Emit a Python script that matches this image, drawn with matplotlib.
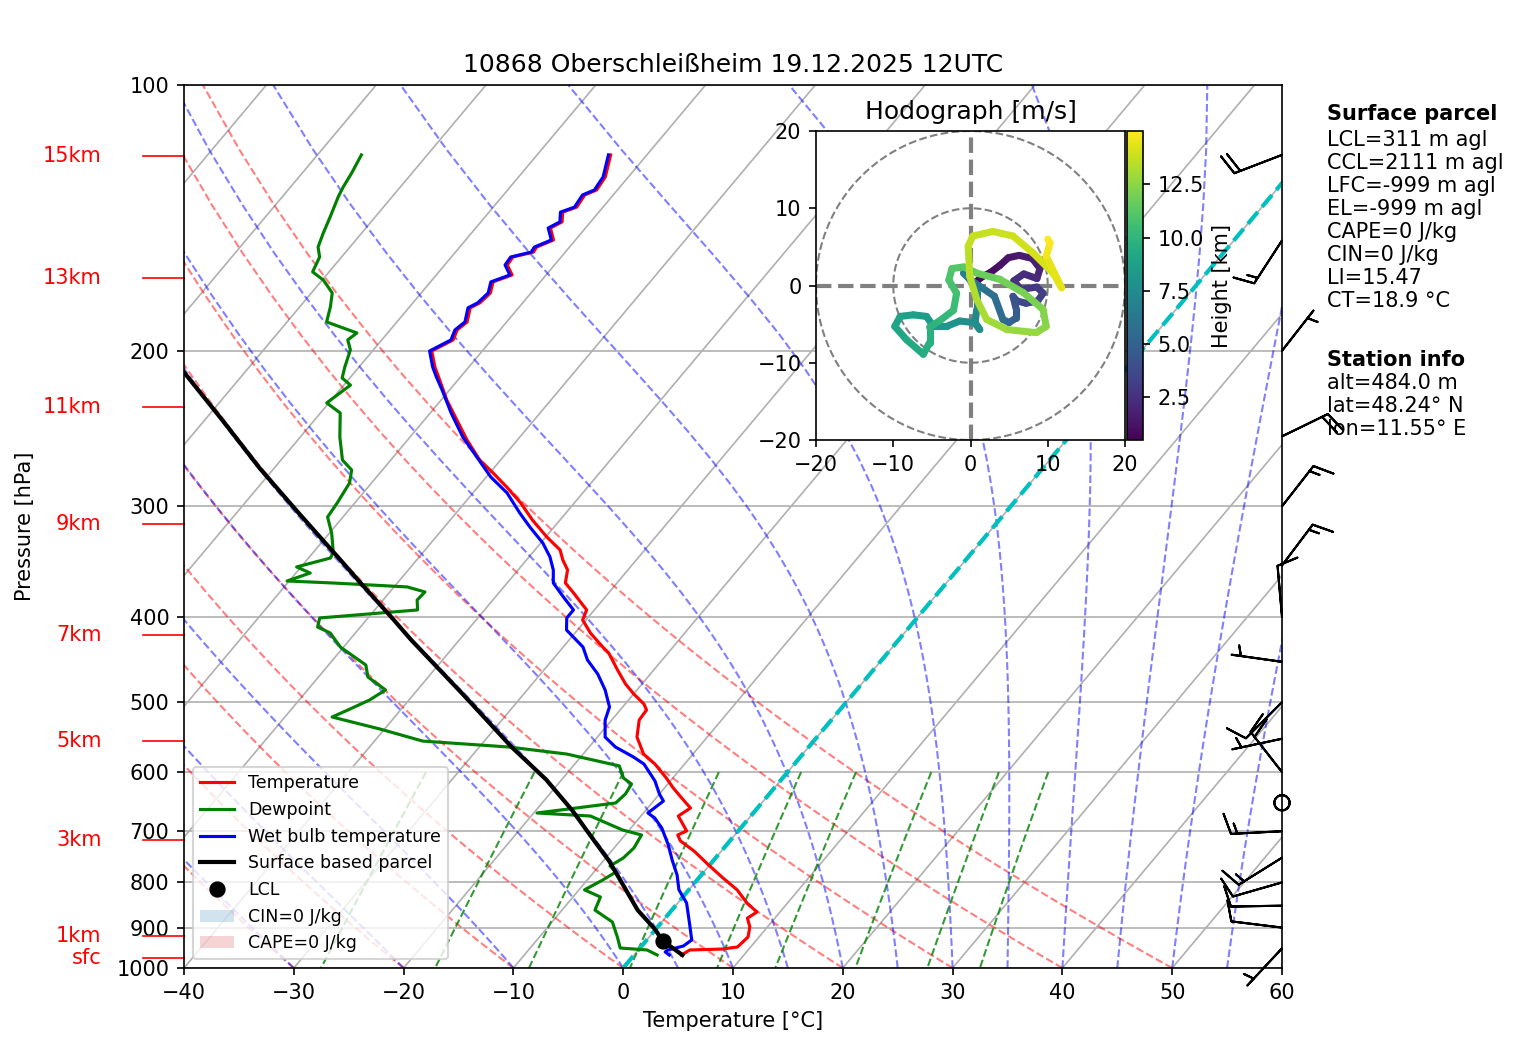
"""Skew-T log-p diagram with hodograph, 10868 Oberschleissheim 19.12.2025 12UTC."""

import numpy as np
import matplotlib
matplotlib.use("Agg")
import matplotlib.pyplot as plt
import matplotlib.patches as mpatches
from matplotlib import transforms
from matplotlib.collections import LineCollection
from matplotlib.ticker import FixedLocator, NullLocator, NullFormatter

# ---- sounding (pressure hPa, temperature degC) ----
temp_p = [120.0, 127.1, 131.5, 133.2, 137.5, 139.3, 142.9, 145.2, 149.8, 152.6,
          154.6, 156.6, 159.9, 164.1, 167.1, 172.0, 176.5, 178.8, 185.5, 189.4,
          194.4, 200.1, 208.6, 214.1, 227.3, 235.2, 252.3, 265.9, 275.0, 285.2,
          297.3, 311.0, 325.0, 336.2, 345.0, 354.1, 366.4, 376.0, 393.1, 403.5,
          417.4, 433.0, 439.8, 459.7, 476.8, 489.3, 502.3, 510.3, 523.8, 547.6,
          572.4, 587.5, 609.3, 625.4, 647.0, 658.9, 672.8, 699.5, 706.9, 718.0,
          737.0, 764.4, 790.7, 815.6, 844.0, 864.2, 878.0, 898.6, 922.4, 946.7,
          951.7, 954.1, 966.7]
temp_t = [-63.3, -62.1, -61.9, -62.6, -62.4, -63.3, -62.6, -63.2, -62.0, -63.0,
          -62.9, -64.4, -64.3, -63.1, -64.3, -63.7, -63.9, -64.4, -63.6, -63.9,
          -63.5, -64.6, -63.1, -62.0, -59.5, -57.9, -54.6, -51.9, -49.7, -47.4,
          -44.9, -42.5, -39.9, -37.7, -36.7, -35.5, -34.7, -33.2, -30.7, -30.3,
          -28.6, -26.4, -25.4, -23.3, -21.5, -20.0, -18.3, -17.6, -17.5, -16.4,
          -14.5, -12.7, -10.6, -9.2, -7.2, -6.1, -6.6, -4.7, -5.2, -4.5,
          -2.5, -0.1, 2.2, 4.4, 6.3, 7.9, 7.5, 8.4, 9.0, 8.8,
          7.6, 4.7, 4.3]

wetbulb_p = [120.0, 127.1, 131.5, 133.2, 137.5, 139.3, 142.9, 145.2, 149.8, 152.6,
             154.6, 156.6, 159.9, 164.1, 167.1, 172.0, 176.5, 178.8, 185.5, 189.4,
             194.4, 200.1, 208.6, 214.1, 221.4, 235.2, 250.4, 263.8, 277.9, 289.7,
             305.3, 316.7, 330.2, 342.3, 354.1, 366.4, 380.1, 393.1, 401.4, 414.2,
             433.0, 447.9, 464.5, 484.3, 506.3, 523.8, 547.6, 562.0, 576.8, 587.5,
             614.1, 635.3, 647.0, 667.5, 676.2, 694.0, 725.5, 754.5, 784.7, 815.6,
             844.0, 889.4, 929.5, 944.3, 954.1, 959.1, 966.7]
wetbulb_t = [-63.5, -62.3, -62.1, -62.8, -62.6, -63.5, -62.8, -63.4, -62.2, -63.2,
             -63.1, -64.6, -64.5, -63.3, -64.5, -63.9, -64.1, -64.6, -63.8, -64.1,
             -63.7, -64.8, -63.3, -62.2, -60.7, -58.1, -55.2, -52.4, -49.6, -46.9,
             -44.2, -42.2, -39.8, -38.1, -36.8, -35.8, -33.8, -31.9, -31.9, -31.0,
             -28.2, -26.8, -24.8, -22.9, -21.2, -20.6, -19.3, -17.6, -15.2, -13.7,
             -11.4, -10.0, -9.1, -9.6, -8.6, -7.2, -5.3, -3.8, -2.2, -0.9,
             0.8, 2.6, 4.1, 3.8, 2.7, 2.6, 3.2]

dewp_p = [120.0, 125.8, 130.5, 133.9, 141.1, 147.1, 152.6, 156.6, 162.8, 166.3,
          172.0, 178.4, 185.5, 190.9, 194.4, 199.5, 208.6, 214.7, 218.7, 229.1,
          235.2, 250.4, 265.9, 272.9, 282.3, 297.3, 308.5, 321.7, 338.0, 343.3,
          351.4, 357.0, 364.5, 366.4, 370.2, 375.1, 383.0, 393.1, 401.4, 411.0,
          417.4, 433.0, 453.8, 468.2, 484.3, 497.3, 510.3, 519.7, 536.3, 553.4,
          562.0, 572.4, 590.4, 609.3, 619.0, 635.3, 650.3, 667.5, 672.8, 697.8,
          706.9, 731.2, 750.5, 766.4, 778.5, 795.2, 815.6, 831.0, 859.8, 887.0,
          922.4, 949.2, 954.1, 966.7]
dewp_t = [-86.0, -85.5, -85.2, -84.9, -84.1, -83.5, -82.9, -82.0, -81.5, -79.9,
          -78.1, -77.2, -76.4, -72.8, -73.1, -72.1, -71.3, -70.7, -69.4, -70.2,
          -68.2, -66.4, -64.4, -62.8, -62.0, -61.6, -61.4, -59.8, -58.2, -58.0,
          -60.4, -58.7, -60.2, -55.9, -48.8, -46.8, -46.9, -46.1, -54.4, -53.9,
          -52.3, -50.3, -46.6, -45.5, -42.9, -43.6, -44.8, -45.7, -40.4, -35.6,
          -27.3, -21.5, -15.8, -14.5, -13.3, -13.1, -13.3, -19.7, -14.6, -10.6,
          -8.5, -8.2, -8.4, -9.0, -8.0, -8.6, -9.5, -7.5, -7.0, -4.5,
          -2.9, -1.8, 0.8, 2.1]

parcel_p = [966.7, 931.3, 903.4, 860.0, 801.4, 757.4, 712.0, 664.0, 612.0, 562.5,
            490.0, 425.0, 400.1, 366.7, 343.6, 305.0, 271.7, 240.0, 211.3]
parcel_t = [4.4, 1.5, -0.1, -3.1, -6.6, -9.4, -12.8, -16.6, -21.4, -27.0,
            -35.5, -44.4, -48.0, -53.3, -57.2, -64.4, -71.3, -78.3, -85.6]

lcl_p = 931.3
lcl_t = 1.5

# ---- wind barbs (meteorological direction deg, speed kt) ----
wind_p = [120, 150, 200, 250, 300, 350, 400, 450, 500, 550, 600, 650, 700, 750,
          800, 850, 900, 950]
wind_dir = [249, 213, 38, 64, 38, 37, 355, 278, 225, 258, 322, 0, 267, 238,
            254, 269, 277, 223]
wind_spd = [20, 15, 5, 20, 15, 15, 10, 5, 10, 5, 20, 0, 15, 15, 10, 10, 10, 5]

# ---- hodograph (m/s) with height (km) ----
hodo_u = [0.5, 1.3, 2.6, 3.8, 4.9, 6.3, 8.0, 9.0, 8.6, 6.9, 5.6, 6.5, 8.6, 9.4, 8.7, 7.2,
          6.0, 5.5, 5.9, 5.9, 5.0, 4.2,
          3.1, 1.5, 0.3, -0.9, -0.1, 0.8, 0.8, 0.6, 1.2, 0.5, -1.4, -3.1, -4.8,
          -5.7, -7.4, -9.1, -9.8, -8.3, -6.1, -5.3, -5.3,
          -3.9, -2.2, -1.8, -2.8, -2.4, -0.9, 0.4,
          0.8, 3.8, 6.8, 9.4, 9.8, 8.5, 4.7, 2.1, 0.8, -0.1, -0.3, 0.3, 2.9, 5.5, 8.1, 10.7, 11.8,
          9.8, 10.3, 10.0]
hodo_v = [0.2, 1.0, 1.7, 2.6, 3.6, 3.9, 3.5, 2.2, 0.9, 1.5, 0.6, -0.5, -0.2, -1.0, -2.0, -2.3,
          -2.0, -1.4, -3.0, -4.2, -4.8, -4.4,
          -1.4, -0.3, 0.5, 1.6, 0.8, -0.9, -3.1, -4.8, -5.7, -4.8, -4.6, -5.3, -5.3,
          -4.0, -3.8, -4.0, -5.3, -7.0, -8.9, -7.4, -5.4,
          -4.5, -3.2, -1.0, 0.7, 2.2, 2.4, 1.8,
          1.6, 0.8, -0.9, -3.1, -5.3, -6.1, -5.7, -4.4, -1.8, 1.2, 5.1, 6.4, 7.0, 6.4, 4.2, 1.6, -0.3,
          3.8, 5.5, 6.0]
hodo_h = [0.5, 0.7, 0.9, 1.1, 1.3, 1.5, 1.7, 1.9, 2.1, 2.3, 2.5, 2.7, 2.9, 3.1, 3.3, 3.5,
          3.7, 4.0, 4.4, 4.8, 5.1, 5.4,
          5.8, 6.1, 6.3, 6.5, 6.7, 6.9, 7.1, 7.3, 7.5, 7.6, 7.8, 8.0, 8.2,
          8.4, 8.6, 8.8, 9.0, 9.2, 9.4, 9.6, 9.8,
          10.0, 10.3, 10.6, 10.8, 11.0, 11.2, 11.4,
          11.6, 11.8, 12.0, 12.2, 12.4, 12.6, 12.8, 13.0, 13.2, 13.4, 13.6, 13.7, 13.8, 13.9, 14.0, 14.1, 14.2,
          14.6, 14.9, 15.0]

# ---- height markers on the left ----
height_labels = ['sfc', '1km', '3km', '5km', '7km', '9km', '11km', '13km', '15km']
height_p = [975.3, 918.8, 716.3, 553.0, 419.8, 314.2, 231.4, 165.5, 120.2]

parcel_info = ['LCL=311 m agl', 'CCL=2111 m agl', 'LFC=-999 m agl', 'EL=-999 m agl',
               'CAPE=0 J/kg', 'CIN=0 J/kg', 'LI=15.47', 'CT=18.9 °C']
station_info = ['alt=484.0 m', 'lat=48.24° N', 'lon=11.55° E']

TITLE = '10868 Oberschleißheim 19.12.2025 12UTC'

# ---- thermodynamics for the background lines ----
SKEW = 67.5  # degC of shift per decade of pressure
RD, CP, LV, EPS = 287.04749, 1004.666, 2.50084e6, 0.621957
KAPPA = 0.28571


def skew_x(t, p):
    return np.asarray(t, float) + SKEW * np.log10(1000.0 / np.asarray(p, float))


def sat_vp(tk):
    tc = tk - 273.15
    return 6.112 * np.exp(17.67 * tc / (tc + 243.5))


def moist_dtdp(t, p):
    es = sat_vp(t)
    rs = EPS * es / (p - es)
    return (RD * t + LV * rs) / (CP + LV ** 2 * rs * EPS / (RD * t ** 2)) / p


def moist_adiabat(t0, pres):
    t = t0 + 273.15
    out = [t]
    for p1, p2 in zip(pres[:-1], pres[1:]):
        n = 6
        h = (p2 - p1) / n
        p = p1
        for _ in range(n):
            k1 = moist_dtdp(t, p)
            k2 = moist_dtdp(t + h * k1 / 2, p + h / 2)
            k3 = moist_dtdp(t + h * k2 / 2, p + h / 2)
            k4 = moist_dtdp(t + h * k3, p + h)
            t = t + h * (k1 + 2 * k2 + 2 * k3 + k4) / 6
            p += h
        out.append(t)
    return np.array(out) - 273.15


fig = plt.figure(figsize=(1517 / 150, 1054 / 150), dpi=150)
ax = fig.add_axes([184 / 1517, 1 - 968 / 1054, 1098 / 1517, 883 / 1054])
ax.set_yscale('log')

pres = np.linspace(1000, 100, 50)

# isotherms (gridlines)
for t in range(-100, 61, 10):
    ax.plot(skew_x([t, t], [1000, 100]), [1000, 100], color='#b0b0b0', lw=0.8, zorder=1)

# dry adiabats
dry = [np.column_stack([skew_x((th + 273.15) * (pres / 1000.0) ** KAPPA - 273.15, pres), pres])
       for th in range(-40, 51, 10)]
ax.add_collection(LineCollection(dry, colors='r', linestyles='dashed', alpha=0.5, lw=1))

# moist adiabats
moist_t0 = list(range(-40, 0, 10)) + list(range(0, 61, 5))
moist = [np.column_stack([skew_x(moist_adiabat(t0, pres), pres), pres]) for t0 in moist_t0]
ax.add_collection(LineCollection(moist, colors='b', linestyles='dashed', alpha=0.5, lw=1))

# mixing ratio lines
pmix = np.linspace(600, 1000, 50)
mix = []
for w in [0.0004, 0.001, 0.002, 0.004, 0.007, 0.01, 0.016, 0.024, 0.032]:
    e = pmix * w / (EPS + w)
    le = np.log(e / 6.112)
    td = 243.5 * le / (17.67 - le)
    mix.append(np.column_stack([skew_x(td, pmix), pmix]))
ax.add_collection(LineCollection(mix, colors='g', linestyles='dashed', alpha=0.8, lw=1))

# 0 degC isotherm
ax.plot(skew_x([0, 0], [1000, 100]), [1000, 100], color='c', ls='--', lw=2)

# profiles
h_t, = ax.plot(skew_x(temp_t, temp_p), temp_p, color='r', lw=1.5, label='Temperature')
h_d, = ax.plot(skew_x(dewp_t, dewp_p), dewp_p, color='g', lw=1.5, label='Dewpoint')
h_w, = ax.plot(skew_x(wetbulb_t, wetbulb_p), wetbulb_p, color='b', lw=1.5,
               label='Wet bulb temperature')
h_p, = ax.plot(skew_x(parcel_t, parcel_p), parcel_p, color='k', lw=2,
               label='Surface based parcel')
h_l, = ax.plot(skew_x([lcl_t], [lcl_p]), [lcl_p], 'ko', ms=6.8, ls='none', label='LCL')
h_cin = mpatches.Patch(facecolor='tab:blue', alpha=0.2, label='CIN=0 J/kg')
h_cape = mpatches.Patch(facecolor='tab:red', alpha=0.2, label='CAPE=0 J/kg')

ax.set_xlim(-40, 60)
ax.set_ylim(1000, 100)
ax.yaxis.set_major_locator(FixedLocator(np.arange(100, 1001, 100)))
ax.yaxis.set_major_formatter(plt.FuncFormatter(lambda val, pos: f'{val:.0f}'))
ax.yaxis.set_minor_locator(NullLocator())
ax.yaxis.set_minor_formatter(NullFormatter())
ax.set_xticks(np.arange(-40, 61, 10))
ax.yaxis.grid(True, color='#b0b0b0', lw=0.8)
ax.set_axisbelow(True)

ax.set_xlabel('Temperature [°C]')
ax.set_ylabel('Pressure [hPa]')
ax.yaxis.set_label_coords(-0.136, 0.5)
ax.set_title(TITLE)

ax.legend(handles=[h_t, h_d, h_w, h_p, h_l, h_cin, h_cape], loc='lower left',
          fontsize='small')

# wind barbs along the right spine
blend = transforms.blended_transform_factory(ax.transAxes, ax.transData)
wd = np.deg2rad(wind_dir)
spd = np.asarray(wind_spd, float)
u = -spd * np.sin(wd)
v = -spd * np.cos(wd)
ax.barbs(np.ones(len(wind_p)), wind_p, u, v, transform=blend, clip_on=False,
         length=7, zorder=5)

# height markers on the left
for lab, p in zip(height_labels, height_p):
    ax.plot([-0.0373, 0], [p, p], color='r', lw=0.8, transform=blend, clip_on=False)
    ax.text(-0.075, p, lab, color='r', ha='right', va='center', transform=blend,
            fontsize=10)

# parcel / station info text
x_txt = 1327 / 1517
fig.text(x_txt, 1 - 114 / 1054, 'Surface parcel', fontweight='bold', va='center')
for i, line in enumerate(parcel_info):
    fig.text(x_txt, 1 - (140 + 23.05 * i) / 1054, line, va='center')
fig.text(x_txt, 1 - 360 / 1054, 'Station info', fontweight='bold', va='center')
for i, line in enumerate(station_info):
    fig.text(x_txt, 1 - (383 + 23.05 * i) / 1054, line, va='center')

# hodograph inset
hax = fig.add_axes([816 / 1517, 1 - 440 / 1054, 309 / 1517, 309 / 1054])
cax = fig.add_axes([1127 / 1517, 1 - 440 / 1054, 16 / 1517, 309 / 1054])
theta = np.linspace(0, 2 * np.pi, 300)
for r in (10, 20):
    hax.plot(r * np.cos(theta), r * np.sin(theta), color='gray', ls='--', lw=1)
hax.axhline(0, color='gray', ls='--', lw=2)
hax.axvline(0, color='gray', ls='--', lw=2)

pts = np.column_stack([hodo_u, hodo_v])
segs = np.stack([pts[:-1], pts[1:]], axis=1)
hh = np.asarray(hodo_h)
lc = LineCollection(segs, cmap='viridis', lw=3.4, capstyle='round', joinstyle='round')
lc.set_array(0.5 * (hh[:-1] + hh[1:]))
lc.set_clim(min(hodo_h), max(hodo_h))
hax.add_collection(lc)
hax.set_xlim(-20, 20)
hax.set_ylim(-20, 20)
hax.set_xticks([-20, -10, 0, 10, 20])
hax.set_yticks([-20, -10, 0, 10, 20])
hax.set_title('Hodograph [m/s]')
cbar = fig.colorbar(lc, cax=cax, ticks=[2.5, 5.0, 7.5, 10.0, 12.5])
cbar.set_label('Height [km]')

fig.savefig('out.png', dpi=150)
